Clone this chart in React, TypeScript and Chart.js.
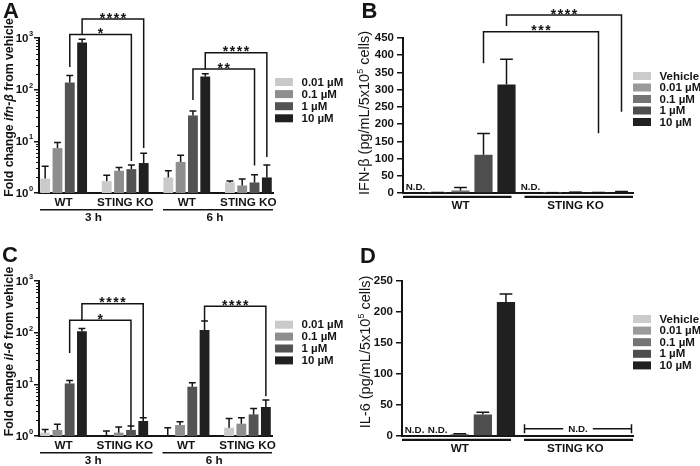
import React, { useEffect, useRef } from 'react';
import { Chart, registerables } from 'chart.js';

Chart.register(...registerables);

const FF = '"Liberation Sans", Arial, Helvetica, sans-serif';
const INK = '#141414';
const W = 350;
const H = 233;

// ---------------- labels / categories ----------------
const CONC_AC = ['0.01 µM', '0.1 µM', '1 µM', '10 µM'];
const CONC_BD = ['Vehicle', '0.01 µM', '0.1 µM', '1 µM', '10 µM'];
const GENOTYPES = ['WT', 'STING KO'];
const TIMES = ['3 h', '6 h'];
const LOG_TICKS = [1, 10, 100, 1000];
const LOG_TICK_BASE = '10';
const LOG_TICK_EXP = ['0', '1', '2', '3'];
const ND_TEXT = 'N.D.';
const B_MAX = 450;
const B_STEP = 50;
const D_MAX = 250;
const D_STEP = 25;

// ---------------- Panel A: ifn-β fold change (log) ----------------
// each array: [3 h WT, 3 h STING KO, 6 h WT, 6 h STING KO]
const A_C001 = [1.9, 1.7, 2.0, 1.6];
const A_C01 = [7.4, 2.7, 4.0, 1.4];
const A_C1 = [138, 2.9, 31.7, 1.6];
const A_C10 = [818, 3.8, 180, 2.0];
const A_C001_HI = [3.3, 2.2, 2.7, 1.7];
const A_C01_HI = [9.5, 3.1, 5.4, 1.86];
const A_C1_HI = [188, 3.5, 38.6, 2.26];
const A_C10_HI = [950, 5.9, 203, 3.5];

// ---------------- Panel C: il-6 fold change (log) ----------------
const C_C001 = [1.16, 1.0, 1.0, 1.45];
const C_C01 = [1.31, 1.16, 1.63, 1.73];
const C_C1 = [10.4, 1.31, 9.0, 2.62];
const C_C10 = [107, 1.95, 112, 3.64];
const C_C001_HI = [1.34, 1.25, 1.45, 2.19];
const C_C01_HI = [1.68, 1.49, 1.89, 2.26];
const C_C1_HI = [11.9, 1.56, 10.7, 3.42];
const C_C10_HI = [120, 2.26, 168, 4.97];

// ---------------- Panel B: IFN-β protein ----------------
// each array: [WT, STING KO]; null = not detected
const B_VEH = [null, null];
const B_C001 = [1.5, 1];
const B_C01 = [7.5, 2.5];
const B_C1 = [111, 1.5];
const B_C10 = [315, 3];
const B_VEH_HI = [null, null];
const B_C001_HI = [1.5, 1];
const B_C01_HI = [16, 2.5];
const B_C1_HI = [173, 1.5];
const B_C10_HI = [388, 4.5];

// ---------------- Panel D: IL-6 protein ----------------
const D_VEH = [null, null];
const D_C001 = [null, null];
const D_C01 = [3, null];
const D_C1 = [34.7, null];
const D_C10 = [216, null];
const D_VEH_HI = [null, null];
const D_C001_HI = [null, null];
const D_C01_HI = [3.8, null];
const D_C1_HI = [38.5, null];
const D_C10_HI = [229, null];

// not-detected marks: [concentration index, genotype index]
const B_ND = [[0, 0], [0, 1]];
const D_ND = [[0, 0], [1, 0]];
const D_ND_GROUP = [1];

// significance: compare groups g1 vs g2 at concentration c
const A_SIG = [
  { g1: 0, g2: 1, c: 2, label: '*' },
  { g1: 0, g2: 1, c: 3, label: '****' },
  { g1: 2, g2: 3, c: 2, label: '**' },
  { g1: 2, g2: 3, c: 3, label: '****' },
];
const C_SIG = [
  { g1: 0, g2: 1, c: 2, label: '*' },
  { g1: 0, g2: 1, c: 3, label: '****' },
  { g1: 2, g2: 3, c: 3, label: '****' },
];
const B_SIG = [
  { g1: 0, g2: 1, c: 3, label: '***' },
  { g1: 0, g2: 1, c: 4, label: '****' },
];

// ---------------- styles / layout (pixels) ----------------
const COLORS_AC = ['#cacaca', '#8e8e8e', '#535353', '#202020'];
const COLORS_BD = ['#cbcbcb', '#9a9a9a', '#747474', '#4e4e4e', '#202020'];

const LAYOUT_A = { axisX: 39, top: 38, bottom: 193, right: 273, letter: [3, 18], title: [9, 107.5], legendX: 275, legendY: 82, legendPitch: 12.1 };
const LAYOUT_C = { axisX: 39, top: 48, bottom: 203, right: 272, letter: [2, 28.5], title: [8.5, 118.5], legendX: 275, legendY: 91.7, legendPitch: 11.9 };
const LAYOUT_B = { axisX: 53, top: 38, bottom: 193, right: 283, letter: [11.5, 18], title: [14.5, 113], legendX: 283, legendY: 76, legendPitch: 11.5 };
const LAYOUT_D = { axisX: 52, top: 48, bottom: 203, right: 283, letter: [10, 29.5], title: [15, 119], legendX: 283, legendY: 86, legendPitch: 11.6 };

const A_SIG_POS = [
  { y: 34.5, lb: 67, rb: 161 },
  { y: 19, lb: 34.5, rb: 148 },
  { y: 69, lb: 100, rb: 165.5 },
  { y: 52.7, lb: 69, rb: 157 },
];
const C_SIG_POS = [
  { y: 87.3, lb: 120, rb: 194 },
  { y: 70.7, lb: 87.3, rb: 185 },
  { y: 73.3, lb: 88.3, rb: 163.3 },
];
const B_SIG_POS = [
  { y: 31.7, lb: 63.3, rb: 133.3 },
  { y: 15, lb: 26, rb: 111.7 },
];

type Seg = { t: string; italic?: boolean; sup?: boolean };
const A_TITLE: Seg[] = [{ t: 'Fold change ' }, { t: 'ifn-β', italic: true }, { t: ' from vehicle' }];
const C_TITLE: Seg[] = [{ t: 'Fold change ' }, { t: 'il-6', italic: true }, { t: ' from vehicle' }];
const B_TITLE: Seg[] = [{ t: 'IFN-β (pg/mL/5x10' }, { t: '5', sup: true }, { t: ' cells)' }];
const D_TITLE: Seg[] = [{ t: 'IL-6 (pg/mL/5x10' }, { t: '5', sup: true }, { t: ' cells)' }];

// ---------------- helpers ----------------
const GROUPS_AC = 4;
const SLOT_STRIDE = CONC_AC.length + 1; // bars + one spacer slot
const N_SLOTS = GROUPS_AC * SLOT_STRIDE - 1;
const slotOf = (g: number, c: number) => g * SLOT_STRIDE + c;
const SLOT_LABELS = Array.from({ length: N_SLOTS }, (_, i) => {
  const g = Math.floor(i / SLOT_STRIDE);
  const c = i % SLOT_STRIDE;
  return c < CONC_AC.length ? `${TIMES[Math.floor(g / 2)]} ${GENOTYPES[g % 2]} ${CONC_AC[c]}` : '';
});
function toSlots(vals: (number | null)[], c: number) {
  const a: (number | null)[] = Array(N_SLOTS).fill(null);
  vals.forEach((v, g) => {
    a[slotOf(g, c)] = v;
  });
  return a;
}

function drawRotated(ctx: CanvasRenderingContext2D, segs: Seg[], cx: number, cy: number, size: number, bold: boolean) {
  const fontFor = (s: Seg) => `${s.italic ? 'italic ' : ''}${bold ? 'bold ' : ''}${s.sup ? size * 0.62 : size}px ${FF}`;
  ctx.save();
  ctx.translate(cx, cy);
  ctx.rotate(-Math.PI / 2);
  let total = 0;
  const widths = segs.map((s) => {
    ctx.font = fontFor(s);
    const w = ctx.measureText(s.t).width;
    total += w;
    return w;
  });
  let x = -total / 2;
  ctx.textAlign = 'left';
  ctx.textBaseline = 'alphabetic';
  ctx.fillStyle = INK;
  segs.forEach((s, i) => {
    ctx.font = fontFor(s);
    ctx.fillText(s.t, x, s.sup ? -size * 0.08 : size * 0.34);
    x += widths[i];
  });
  ctx.restore();
}

function drawBracket(ctx: CanvasRenderingContext2D, x1: number, x2: number, y: number, lb: number, rb: number, label: string) {
  ctx.strokeStyle = INK;
  ctx.lineWidth = 1.5;
  ctx.beginPath();
  ctx.moveTo(x1, lb);
  ctx.lineTo(x1, y);
  ctx.lineTo(x2, y);
  ctx.lineTo(x2, rb);
  ctx.stroke();
  ctx.fillStyle = INK;
  ctx.font = `bold 14px ${FF}`;
  ctx.textAlign = 'center';
  ctx.textBaseline = 'alphabetic';
  const cx = (x1 + x2) / 2;
  const n = label.length;
  for (let i = 0; i < n; i++) ctx.fillText(label[i], cx + (i - (n - 1) / 2) * 7, y + 3.5);
}

function drawErrors(chart: any) {
  const ctx = chart.ctx as CanvasRenderingContext2D;
  const ys = chart.scales.y;
  ctx.strokeStyle = INK;
  ctx.lineWidth = 1.5;
  chart.data.datasets.forEach((ds: any, i: number) => {
    const meta = chart.getDatasetMeta(i);
    ds.data.forEach((v: number | null, j: number) => {
      const hi = ds.errHi ? ds.errHi[j] : null;
      if (v == null || hi == null) return;
      const el: any = meta.data[j];
      if (!el) return;
      const top = ys.getPixelForValue(hi);
      const base = ys.getPixelForValue(v);
      const cap = el.width * 0.35;
      ctx.beginPath();
      ctx.moveTo(el.x, base);
      ctx.lineTo(el.x, top);
      ctx.moveTo(el.x - cap, top);
      ctx.lineTo(el.x + cap, top);
      ctx.stroke();
    });
  });
}

function drawLegend(chart: any, L: any) {
  const ctx = chart.ctx as CanvasRenderingContext2D;
  ctx.font = `bold 11.5px ${FF}`;
  ctx.textAlign = 'left';
  ctx.textBaseline = 'middle';
  chart.data.datasets.forEach((ds: any, i: number) => {
    const y = L.legendY + i * L.legendPitch;
    ctx.fillStyle = ds.backgroundColor;
    ctx.fillRect(L.legendX, y - 4, 18, 8);
    ctx.fillStyle = INK;
    ctx.fillText(ds.label, L.legendX + 26.5, y + 0.5);
  });
}

function drawLetter(ctx: CanvasRenderingContext2D, letter: string, L: any) {
  ctx.fillStyle = INK;
  ctx.font = `bold 22px ${FF}`;
  ctx.textAlign = 'left';
  ctx.textBaseline = 'alphabetic';
  ctx.fillText(letter, L.letter[0], L.letter[1]);
}

// ---------------- log panels (A, C) ----------------
function logPanelConfig(letter: string, L: any, title: Seg[], vals: number[][], his: number[][], sig: any[], sigPos: any[]) {
  const plugin = {
    id: 'panel' + letter,
    afterDraw(chart: any) {
      const ctx = chart.ctx as CanvasRenderingContext2D;
      const xs = chart.scales.x;
      const ys = chart.scales.y;
      const area = chart.chartArea;
      ctx.save();
      drawLetter(ctx, letter, L);
      drawRotated(ctx, title, L.title[0], L.title[1], 12.3, true);
      // tick labels 10^n
      ctx.fillStyle = INK;
      LOG_TICKS.forEach((v, i) => {
        const y = ys.getPixelForValue(v);
        ctx.font = `bold 11.5px ${FF}`;
        ctx.textAlign = 'right';
        ctx.textBaseline = 'middle';
        ctx.fillText(LOG_TICK_BASE, area.left - 10.5, y + 0.5);
        ctx.font = `bold 7.5px ${FF}`;
        ctx.textAlign = 'left';
        ctx.fillText(LOG_TICK_EXP[i], area.left - 10, y - 4);
      });
      // minor ticks
      ctx.strokeStyle = INK;
      ctx.lineWidth = 1;
      for (let d = 0; d < LOG_TICKS.length - 1; d++) {
        for (let m = 2; m <= 9; m++) {
          const y = Math.round(ys.getPixelForValue(m * LOG_TICKS[d])) + 0.5;
          ctx.beginPath();
          ctx.moveTo(area.left - 3, y);
          ctx.lineTo(area.left, y);
          ctx.stroke();
        }
      }
      drawErrors(chart);
      sig.forEach((s, i) => {
        const p = sigPos[i];
        drawBracket(ctx, xs.getPixelForValue(slotOf(s.g1, s.c)), xs.getPixelForValue(slotOf(s.g2, s.c)), p.y, p.lb, p.rb, s.label);
      });
      // genotype labels
      ctx.fillStyle = INK;
      ctx.font = `bold 11.7px ${FF}`;
      ctx.textAlign = 'center';
      ctx.textBaseline = 'middle';
      for (let g = 0; g < GROUPS_AC; g++) {
        const x = (xs.getPixelForValue(slotOf(g, 0)) + xs.getPixelForValue(slotOf(g, CONC_AC.length - 1))) / 2;
        ctx.fillText(GENOTYPES[g % 2], x, area.bottom + 9.8);
      }
      // time underlines
      const mid = xs.getPixelForValue(slotOf(1, CONC_AC.length)) + 2;
      const uy = area.bottom + 16.8;
      const spans = [
        [area.left + 1, mid - 5],
        [mid + 5, area.right],
      ];
      ctx.lineWidth = 1.5;
      spans.forEach(([a, b], t) => {
        ctx.beginPath();
        ctx.moveTo(a, uy);
        ctx.lineTo(b, uy);
        ctx.stroke();
        ctx.fillText(TIMES[t], (a + b) / 2 - 3, area.bottom + 25.2);
      });
      drawLegend(chart, L);
      ctx.restore();
    },
  };
  return {
    type: 'bar',
    data: {
      labels: SLOT_LABELS,
      datasets: CONC_AC.map((lab, k) => ({
        label: lab,
        data: toSlots(vals[k], k),
        errHi: toSlots(his[k], k),
        backgroundColor: COLORS_AC[k],
        borderWidth: 0,
        grouped: false,
        barPercentage: 0.8,
        categoryPercentage: 1,
      })),
    },
    options: {
      responsive: false,
      maintainAspectRatio: false,
      animation: false,
      devicePixelRatio: 1,
      events: [],
      layout: { padding: { left: 0, top: L.top, right: W - L.right, bottom: 0 } },
      plugins: { legend: { display: false }, tooltip: { enabled: false }, title: { display: false } },
      scales: {
        x: {
          type: 'category',
          offset: true,
          grid: { display: false },
          border: { display: true, color: INK, width: 2 },
          ticks: { display: false },
          afterFit: (s: any) => {
            s.height = H - L.bottom;
          },
        },
        y: {
          type: 'logarithmic',
          min: LOG_TICKS[0],
          max: LOG_TICKS[LOG_TICKS.length - 1],
          afterBuildTicks: (s: any) => {
            s.ticks = LOG_TICKS.map((v) => ({ value: v }));
          },
          ticks: { display: false },
          grid: { display: true, drawOnChartArea: false, drawTicks: true, tickLength: 5, color: INK, lineWidth: 1.5 },
          border: { display: true, color: INK, width: 2 },
          afterFit: (s: any) => {
            s.width = L.axisX;
          },
        },
      },
    },
    plugins: [plugin],
  };
}

// ---------------- linear panels (B, D) ----------------
function linPanelConfig(
  letter: string,
  L: any,
  title: Seg[],
  vals: (number | null)[][],
  his: (number | null)[][],
  max: number,
  step: number,
  sig: any[],
  sigPos: any[],
  nd: number[][],
  ndGroups: number[]
) {
  const plugin = {
    id: 'panel' + letter,
    afterDraw(chart: any) {
      const ctx = chart.ctx as CanvasRenderingContext2D;
      const xs = chart.scales.x;
      const area = chart.chartArea;
      const catW = area.width / GENOTYPES.length;
      const pitch = catW / CONC_BD.length;
      const barX = (c: number, g: number) => xs.getPixelForValue(g) + (c - (CONC_BD.length - 1) / 2) * pitch;
      ctx.save();
      drawLetter(ctx, letter, L);
      drawRotated(ctx, title, L.title[0], L.title[1], 14.5, false);
      drawErrors(chart);
      sig.forEach((s, i) => {
        const p = sigPos[i];
        drawBracket(ctx, barX(s.c, s.g1), barX(s.c, s.g2), p.y, p.lb, p.rb, s.label);
      });
      // N.D. labels
      ctx.fillStyle = INK;
      ctx.font = `bold 9.8px ${FF}`;
      ctx.textAlign = 'center';
      ctx.textBaseline = 'alphabetic';
      nd.forEach(([c, g]) => {
        ctx.fillText(ND_TEXT, barX(c, g) + 1, area.bottom - 3);
      });
      ndGroups.forEach((g) => {
        const a = area.left + g * catW + 7;
        const b = area.left + (g + 1) * catW - 1.5;
        const y = area.bottom - 7.3;
        const cx = (a + b) / 2;
        const tw = ctx.measureText(ND_TEXT).width / 2 + 5;
        ctx.strokeStyle = INK;
        ctx.lineWidth = 1.5;
        ctx.beginPath();
        ctx.moveTo(a, y - 4.5);
        ctx.lineTo(a, y + 4.5);
        ctx.moveTo(a, y);
        ctx.lineTo(cx - tw, y);
        ctx.moveTo(cx + tw, y);
        ctx.lineTo(b, y);
        ctx.moveTo(b, y - 4.5);
        ctx.lineTo(b, y + 4.5);
        ctx.stroke();
        ctx.textBaseline = 'middle';
        ctx.fillText(ND_TEXT, cx, y + 0.5);
        ctx.textBaseline = 'alphabetic';
      });
      // genotype underlines + labels
      const mid = area.left + area.width / 2;
      const uy = area.bottom + 3.8;
      const spans = [
        [area.left, mid - 6.5],
        [mid + 6.5, area.right],
      ];
      ctx.strokeStyle = INK;
      ctx.lineWidth = 2.2;
      ctx.font = `bold 11.7px ${FF}`;
      ctx.textBaseline = 'middle';
      spans.forEach(([a, b], g) => {
        ctx.beginPath();
        ctx.moveTo(a, uy);
        ctx.lineTo(b, uy);
        ctx.stroke();
        ctx.fillText(GENOTYPES[g], xs.getPixelForValue(g), area.bottom + 13.2);
      });
      drawLegend(chart, L);
      ctx.restore();
    },
  };
  return {
    type: 'bar',
    data: {
      labels: GENOTYPES,
      datasets: CONC_BD.map((lab, k) => ({
        label: lab,
        data: vals[k],
        errHi: his[k],
        backgroundColor: COLORS_BD[k],
        borderWidth: 0,
        barPercentage: 0.79,
        categoryPercentage: 1,
      })),
    },
    options: {
      responsive: false,
      maintainAspectRatio: false,
      animation: false,
      devicePixelRatio: 1,
      events: [],
      layout: { padding: { left: 0, top: L.top, right: W - L.right, bottom: 0 } },
      plugins: { legend: { display: false }, tooltip: { enabled: false }, title: { display: false } },
      scales: {
        x: {
          type: 'category',
          offset: true,
          grid: { display: false },
          border: { display: true, color: INK, width: 2 },
          ticks: { display: false },
          afterFit: (s: any) => {
            s.height = H - L.bottom;
          },
        },
        y: {
          type: 'linear',
          min: 0,
          max,
          ticks: { stepSize: step, color: INK, padding: 3, font: { family: FF, weight: 'bold', size: 11.5 } },
          grid: { display: true, drawOnChartArea: false, drawTicks: true, tickLength: 6, color: INK, lineWidth: 1.5 },
          border: { display: true, color: INK, width: 2 },
          afterFit: (s: any) => {
            s.width = L.axisX;
          },
        },
      },
    },
    plugins: [plugin],
  };
}

function Panel({ make, left, top }: { make: () => any; left: number; top: number }) {
  const ref = useRef<HTMLCanvasElement>(null);
  useEffect(() => {
    const chart = new Chart(ref.current as HTMLCanvasElement, make());
    return () => chart.destroy();
  }, []);
  return <canvas ref={ref} width={W} height={H} style={{ position: 'absolute', left, top, width: W, height: H }} />;
}

export default function App() {
  return (
    <div style={{ position: 'fixed', left: 0, top: 0, width: 700, height: 466, background: '#ffffff', overflow: 'hidden' }}>
      <Panel
        left={0}
        top={0}
        make={() =>
          logPanelConfig('A', LAYOUT_A, A_TITLE, [A_C001, A_C01, A_C1, A_C10], [A_C001_HI, A_C01_HI, A_C1_HI, A_C10_HI], A_SIG, A_SIG_POS)
        }
      />
      <Panel
        left={350}
        top={0}
        make={() =>
          linPanelConfig(
            'B',
            LAYOUT_B,
            B_TITLE,
            [B_VEH, B_C001, B_C01, B_C1, B_C10],
            [B_VEH_HI, B_C001_HI, B_C01_HI, B_C1_HI, B_C10_HI],
            B_MAX,
            B_STEP,
            B_SIG,
            B_SIG_POS,
            B_ND,
            []
          )
        }
      />
      <Panel
        left={0}
        top={233}
        make={() =>
          logPanelConfig('C', LAYOUT_C, C_TITLE, [C_C001, C_C01, C_C1, C_C10], [C_C001_HI, C_C01_HI, C_C1_HI, C_C10_HI], C_SIG, C_SIG_POS)
        }
      />
      <Panel
        left={350}
        top={233}
        make={() =>
          linPanelConfig(
            'D',
            LAYOUT_D,
            D_TITLE,
            [D_VEH, D_C001, D_C01, D_C1, D_C10],
            [D_VEH_HI, D_C001_HI, D_C01_HI, D_C1_HI, D_C10_HI],
            D_MAX,
            D_STEP,
            [],
            [],
            D_ND,
            D_ND_GROUP
          )
        }
      />
    </div>
  );
}
